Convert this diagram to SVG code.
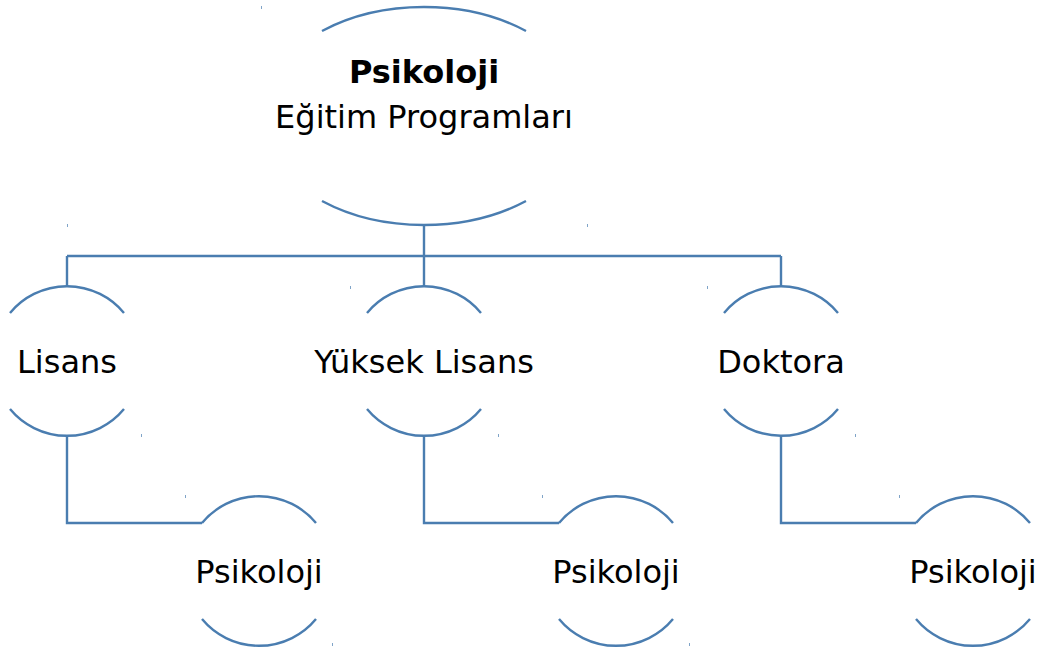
<svg xmlns="http://www.w3.org/2000/svg" width="1040" height="648" viewBox="0 0 1040 648">
<style>
.arc{fill:none;stroke:#4a7db0;stroke-width:2.4}
.conn{fill:none;stroke:#4a7db0;stroke-width:2.4}
.t{font-family:"DejaVu Sans",sans-serif;font-size:32px;fill:#000;text-anchor:middle}
.b{font-weight:bold}
.tick{fill:#4a7db0;opacity:0.7}
</style>
<rect width="1040" height="648" fill="#fff"/>
<g id="connectors">
<path class="conn" d="M424,225 V256 M67,256 H781 M67,256 V287 M424,256 V287 M781,256 V287"/>
<path class="conn" d="M67,435 V523 H202"/>
<path class="conn" d="M424,435 V523 H559"/>
<path class="conn" d="M781,435 V523 H916"/>
</g>
<g id="root">
<path class="arc" d="M322,31 A163,109 0 0 1 526,31"/>
<path class="arc" d="M322,201 A163,109 0 0 0 526,201"/>
<text class="t b" x="424" y="83">Psikoloji</text>
<text class="t" x="424" y="128">Eğitim Programları</text>
<rect class="tick" x="261" y="6" width="1" height="3"/>
<rect class="tick" x="587" y="224" width="1" height="3"/>
<rect class="tick" x="67" y="224" width="1" height="3"/>
</g>
<g id="lisans">
<path class="arc" d="M10,313 A74,74 0 0 1 124,313"/>
<path class="arc" d="M10,409 A74,74 0 0 0 124,409"/>
<text class="t" x="67" y="373">Lisans</text>
<rect class="tick" x="141" y="434" width="1" height="3"/>
</g>
<g id="yuksek-lisans">
<path class="arc" d="M367,313 A74,74 0 0 1 481,313"/>
<path class="arc" d="M367,409 A74,74 0 0 0 481,409"/>
<text class="t" x="424" y="373">Yüksek Lisans</text>
<rect class="tick" x="350" y="286" width="1" height="3"/>
<rect class="tick" x="498" y="434" width="1" height="3"/>
</g>
<g id="doktora">
<path class="arc" d="M724,313 A74,74 0 0 1 838,313"/>
<path class="arc" d="M724,409 A74,74 0 0 0 838,409"/>
<text class="t" x="781" y="373">Doktora</text>
<rect class="tick" x="707" y="286" width="1" height="3"/>
<rect class="tick" x="855" y="434" width="1" height="3"/>
</g>
<g id="psikoloji-1">
<path class="arc" d="M202,523 A74,74 0 0 1 316,523"/>
<path class="arc" d="M202,619 A74,74 0 0 0 316,619"/>
<text class="t" x="259" y="583">Psikoloji</text>
<rect class="tick" x="185" y="495" width="1" height="3"/>
<rect class="tick" x="332" y="643" width="1" height="3"/>
</g>
<g id="psikoloji-2">
<path class="arc" d="M559,523 A74,74 0 0 1 673,523"/>
<path class="arc" d="M559,619 A74,74 0 0 0 673,619"/>
<text class="t" x="616" y="583">Psikoloji</text>
<rect class="tick" x="542" y="495" width="1" height="3"/>
<rect class="tick" x="689" y="643" width="1" height="3"/>
</g>
<g id="psikoloji-3">
<path class="arc" d="M916,523 A74,74 0 0 1 1030,523"/>
<path class="arc" d="M916,619 A74,74 0 0 0 1030,619"/>
<text class="t" x="973" y="583">Psikoloji</text>
<rect class="tick" x="899" y="495" width="1" height="3"/>
</g>
</svg>
